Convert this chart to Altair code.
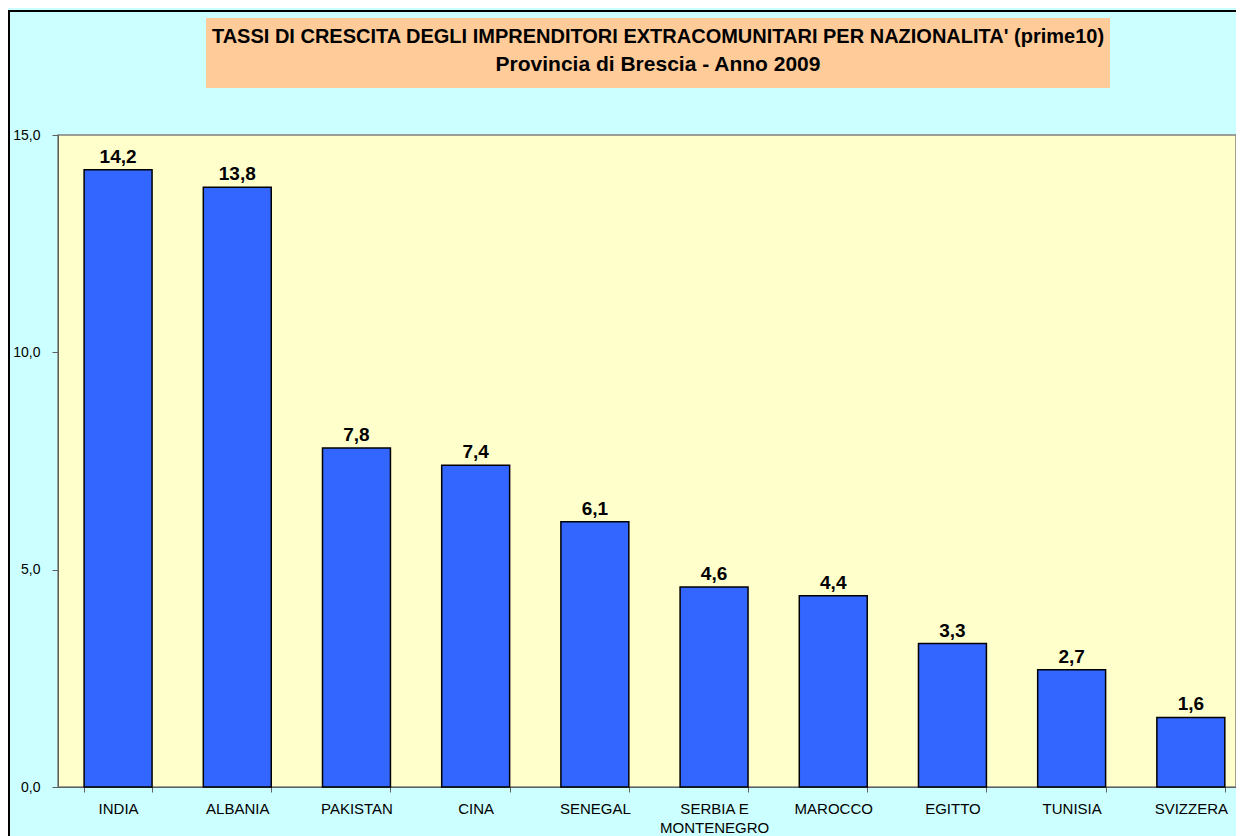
import altair as alt
import pandas as pd

countries = ["INDIA", "ALBANIA", "PAKISTAN", "CINA", "SENEGAL", "SERBIA E|MONTENEGRO",
             "MAROCCO", "EGITTO", "TUNISIA", "SVIZZERA"]
values = [14.2, 13.8, 7.8, 7.4, 6.1, 4.6, 4.4, 3.3, 2.7, 1.6]
title_lines = ["TASSI DI CRESCITA DEGLI IMPRENDITORI EXTRACOMUNITARI PER NAZIONALITA' (prime10)",
               "Provincia di Brescia - Anno 2009"]
y_ticks = [0, 5, 10, 15]

FONT = "Liberation Sans, Arial, sans-serif"

df = pd.DataFrame({"country": countries, "value": values})

base = alt.Chart(df).encode(
    x=alt.X("country:N", sort=None, title=None,
            scale=alt.Scale(paddingInner=0.43, paddingOuter=0.1565, align=0.7),
            axis=alt.Axis(labelExpr="split(datum.label, '|')", labelAngle=0,
                          tickBand="extent", tickSize=5, labelPadding=9,
                          labelFont=FONT, labelFontSize=15, labelColor="black",
                          labelLineHeight=19, domainColor="#606060", tickColor="#606060",
                          labelBaseline="top")),
)

bars = base.mark_bar(color="#3366FF", stroke="black", strokeWidth=1.5).encode(
    y=alt.Y("value:Q", title=None,
            scale=alt.Scale(domain=[0, 15], nice=False),
            axis=alt.Axis(values=y_ticks, tickSize=6, labelPadding=12,
                          labelExpr="replace(format(datum.value, '.1f'), '.', ',')",
                          labelFont=FONT, labelFontSize=14, labelColor="black",
                          domainColor="#606060", tickColor="#606060", grid=False))
)

labels = base.transform_calculate(
    lab="replace(format(datum.value, '.1f'), '.', ',')"
).mark_text(font=FONT, fontSize=19, fontWeight="bold", dy=-7,
            baseline="alphabetic", color="black").encode(
    y=alt.Y("value:Q"), text="lab:N"
)

one = pd.DataFrame({"a": [0]})
title_box = alt.Chart(one).mark_rect(color="#FFCC99").encode(
    x=alt.value(148), x2=alt.value(1052), y=alt.value(-117), y2=alt.value(-47)
)
frame = alt.Chart(one).mark_rect(fillOpacity=0, stroke="black", strokeWidth=2).encode(
    x=alt.value(-49), x2=alt.value(1300), y=alt.value(-124), y2=alt.value(900)
)
t1 = alt.Chart(pd.DataFrame({"t": [title_lines[0]]})).mark_text(
    font=FONT, fontSize=20, fontWeight="bold", color="black", baseline="alphabetic", align="center"
).encode(x=alt.value(600), y=alt.value(-92), text="t:N")
t2 = alt.Chart(pd.DataFrame({"t": [title_lines[1]]})).mark_text(
    font=FONT, fontSize=21, fontWeight="bold", color="black", baseline="alphabetic", align="center"
).encode(x=alt.value(600), y=alt.value(-64), text="t:N")

chart = alt.layer(title_box, frame, t1, t2, bars, labels).properties(
    width=1178, height=652,
    autosize=alt.AutoSizeParams(type="none"),
    padding={"left": 50, "top": 127, "right": 0, "bottom": 49},
    background="#CCFFFF",
).configure_view(fill="#FFFFCC", stroke="#808080", strokeWidth=1.5)

chart.save("out.html", embed_options={"renderer": "svg", "actions": False})
